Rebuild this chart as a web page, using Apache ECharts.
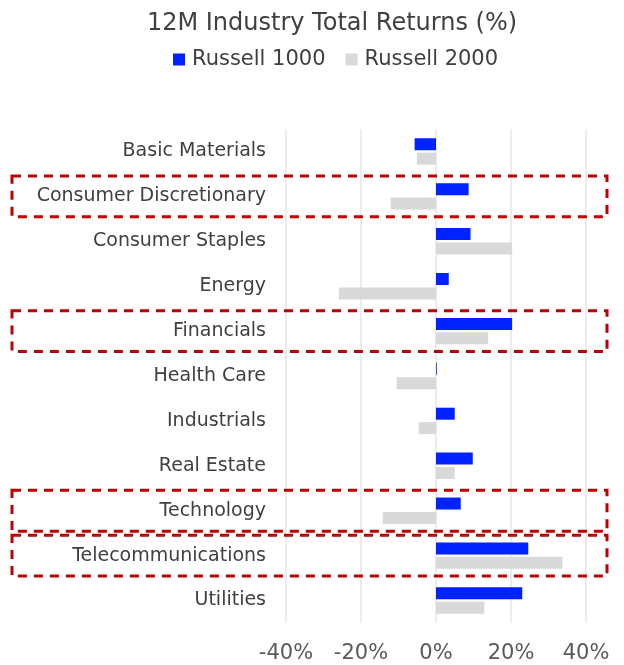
<!DOCTYPE html>
<html>
<head>
<meta charset="utf-8">
<script src="https://cdn.jsdelivr.net/npm/echarts@6/dist/echarts.min.js"></script>
<style>
  html, body { margin: 0; padding: 0; background: #ffffff; }
  #chart { width: 624px; height: 665px; }
</style>
</head>
<body>
<div id="chart"></div>
<script>
// 行业分类（从上到下）
var industries = ['Basic Materials', 'Consumer Discretionary', 'Consumer Staples', 'Energy', 'Financials',
  'Health Care', 'Industrials', 'Real Estate', 'Technology', 'Telecommunications', 'Utilities']
var russell1000 = [-5.7, 8.7, 9.2, 3.4, 20.3, 0.2, 5.0, 9.8, 6.6, 24.6, 23.0]
var russell2000 = [-5.1, -12.1, 20.3, -25.9, 13.9, -10.5, -4.6, 5.0, -14.2, 33.7, 12.9]
var xTicks = [-40, -20, 0, 20, 40]
// 红色虚线框标注的行业
var highlighted = ['Consumer Discretionary', 'Financials', 'Technology', 'Telecommunications']

var myChart = echarts.init(document.getElementById('chart'))
var font = 'DejaVu Sans, sans-serif'
var option = {
  backgroundColor: '#ffffff',
  animation: false,
  title: {
    text: '12M Industry Total Returns (%)',
    left: 327,
    top: 7,
    textAlign: 'center',
    textStyle: { fontFamily: font, fontSize: 24, fontWeight: 'normal', color: '#404040' }
  },
  legend: {
    data: ['Russell 1000', 'Russell 2000'],
    left: 168,
    top: 44,
    icon: 'rect',
    itemWidth: 12,
    itemHeight: 12,
    itemGap: 20,
    textStyle: { fontFamily: font, fontSize: 21, color: '#404040', padding: [0, 0, 0, 2] }
  },
  grid: {
    left: 286,
    right: 38,
    top: 129,
    bottom: 42,
    outerBoundsMode: 'none'
  },
  xAxis: {
    type: 'value',
    min: xTicks[0],
    max: xTicks[xTicks.length - 1],
    interval: 20,
    axisLine: { show: false },
    axisTick: { show: false },
    splitLine: { lineStyle: { color: '#ececec', width: 2 } },
    axisLabel: {
      formatter: '{value}%',
      margin: 20,
      fontFamily: font,
      fontSize: 21,
      color: '#595959'
    }
  },
  yAxis: {
    type: 'category',
    data: industries,
    inverse: true,
    axisLine: { show: false },
    axisTick: { show: false },
    axisLabel: { margin: 20, fontFamily: font, fontSize: 19, color: '#404040' }
  },
  series: [
    {
      name: 'Russell 1000',
      type: 'bar',
      barWidth: 12,
      barGap: '20%',
      itemStyle: { color: '#0022ff' },
      data: russell1000
    },
    {
      name: 'Russell 2000',
      type: 'bar',
      barWidth: 12,
      barGap: '20%',
      itemStyle: { color: '#d9d9d9' },
      data: russell2000
    }
  ]
}
myChart.setOption(option, true)

// 用坐标轴换算出虚线框位置
var band = myChart.convertToPixel({ yAxisIndex: 0 }, industries[1]) - myChart.convertToPixel({ yAxisIndex: 0 }, industries[0])
var boxes = highlighted.map(function(name) {
  var cy = myChart.convertToPixel({ yAxisIndex: 0 }, name)
  var h = band - 4
  return {
    type: 'rect',
    silent: true,
    shape: { x: 12, y: cy - h / 2, width: 595, height: h },
    style: { fill: 'none', stroke: '#c00000', lineWidth: 3, lineDash: [9, 7] },
    z: 100
  }
})
myChart.setOption({ graphic: boxes })
</script>
</body>
</html>
